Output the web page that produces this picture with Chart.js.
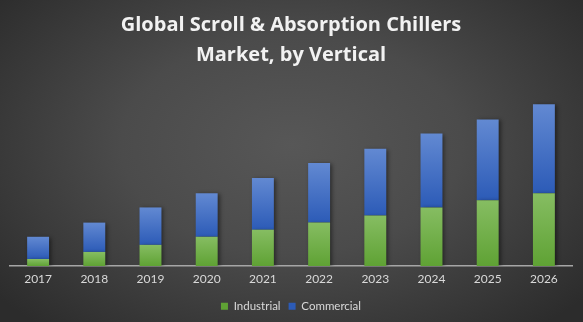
<!DOCTYPE html>
<html lang="en">
    <head>
        <meta charset="UTF-8">
        <title>Global Scroll & Absorption Chillers Market, by Vertical</title>
        <script src="https://cdn.jsdelivr.net/npm/chart.js"></script>
        <style>
            html, body {
                margin: 0;
                padding: 0;
            }

            body {
                width: 583px;
                height: 322px;
                overflow: hidden;
                background: radial-gradient(ellipse 65% 75% at 50% 45%, #575757 0%, #4b4b4b 45%, #2c2c2c 100%);
            }

            .chart-container {
                position: relative;
                width: 583px;
                height: 322px;
            }
        </style>
    </head>
    <body>
        <div class="chart-container">
            <canvas id="chart"></canvas>
        </div>

        <script>
            const years = ['2017', '2018', '2019', '2020', '2021', '2022', '2023', '2024', '2025', '2026'];
            const industrial = [7, 14, 21, 29, 36, 43, 50, 58, 65, 72];
            const commercial = [22, 29, 37, 43, 51, 59, 66, 73, 80, 88];
            const titleLines = ['Global Scroll & Absorption Chillers', 'Market, by Vertical'];

            const fontName = "Lato, 'Open Sans', sans-serif";
            const textColor = '#d9d9d9';

            // вертикальный градиент для каждого сегмента
            function segmentFill(light, dark, solid, lower, upper) {
                return (context) => {
                    const chart = context.chart;
                    const i = context.dataIndex;
                    const y = chart.scales.y;
                    if (i === undefined || !y || !chart.chartArea) return solid;
                    const top = y.getPixelForValue(upper(i));
                    const bottom = y.getPixelForValue(lower(i));
                    if (!isFinite(top) || !isFinite(bottom) || top === bottom) return solid;
                    const g = chart.ctx.createLinearGradient(0, top, 0, bottom);
                    g.addColorStop(0, light);
                    g.addColorStop(1, dark);
                    return g;
                };
            }

            const barShadow = {
                id: 'barShadow',
                beforeDatasetsDraw(chart) {
                    const ctx = chart.ctx;
                    ctx.save();
                    ctx.shadowColor = 'rgba(0, 0, 0, 0.45)';
                    ctx.shadowBlur = 4;
                    ctx.shadowOffsetX = 2;
                    ctx.shadowOffsetY = 1;
                },
                afterDatasetsDraw(chart) {
                    chart.ctx.restore();
                }
            };

            new Chart(document.getElementById('chart'), {
                type: 'bar',
                data: {
                    labels: years,
                    datasets: [
                        {
                            label: 'Industrial',
                            data: industrial,
                            backgroundColor: segmentFill('#86bd62', '#5fa234', '#70ad47',
                                i => 0, i => industrial[i])
                        },
                        {
                            label: 'Commercial',
                            data: commercial,
                            backgroundColor: segmentFill('#6289d2', '#2c5bb7', '#4472c4',
                                i => industrial[i], i => industrial[i] + commercial[i])
                        }
                    ]
                },
                plugins: [barShadow],
                options: {
                    responsive: true,
                    maintainAspectRatio: false,
                    animation: false,
                    devicePixelRatio: 1,
                    datasets: {
                        bar: {
                            categoryPercentage: 1,
                            barPercentage: 0.39
                        }
                    },
                    layout: {
                        padding: { left: 10, right: 11, top: 0, bottom: 0 }
                    },
                    plugins: {
                        title: {
                            display: true,
                            text: titleLines,
                            color: '#f2f2f2',
                            font: { family: "'Open Sans', sans-serif", size: 20, weight: 'bold', lineHeight: 1.5 },
                            padding: { top: 10, bottom: 10 }
                        },
                        legend: {
                            position: 'bottom',
                            labels: {
                                color: textColor,
                                font: { family: fontName, size: 11.5 },
                                boxWidth: 7,
                                boxHeight: 7,
                                padding: 8
                            }
                        },
                        tooltip: { enabled: false }
                    },
                    scales: {
                        x: {
                            stacked: true,
                            grid: { display: false, tickLength: 0 },
                            border: { display: true, color: '#a6a6a6', width: 1.5 },
                            ticks: {
                                color: textColor,
                                font: { family: fontName, size: 12 },
                                padding: 6
                            }
                        },
                        y: {
                            stacked: true,
                            display: false,
                            min: 0,
                            max: 184
                        }
                    }
                }
            });
        </script>
    </body>
</html>
